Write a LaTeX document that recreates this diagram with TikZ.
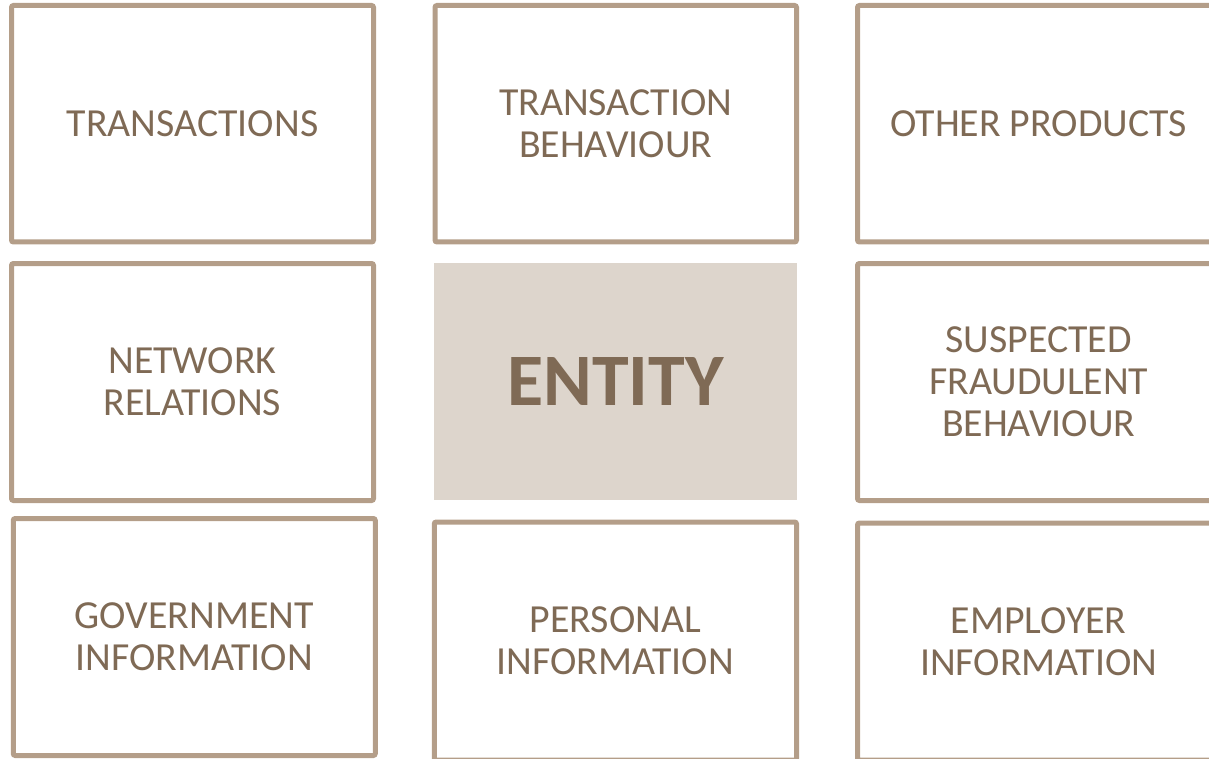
\documentclass[tikz,border=0pt]{standalone}
\usepackage{fontspec}
\setmainfont{Carlito}
\definecolor{tileedge}{RGB}{180,158,137}
\definecolor{tiletext}{RGB}{127,106,85}
\definecolor{corefill}{RGB}{221,213,204}

\begin{document}
\begin{tikzpicture}[x=1pt, y=-1pt,
    tile/.style={draw=tileedge, line width=5pt, rounded corners=2pt, text=tiletext,
      align=center, inner sep=0pt, font=\fontsize{39.8}{42.2}\selectfont},
    core/.style={fill=corefill, text=tiletext, inner sep=0pt,
      font=\fontsize{74}{80}\selectfont\bfseries}]
    \useasboundingbox (0,0) rectangle (1209,759);
    \clip (0,0) rectangle (1209,759);
    % top row
    \node [tile, minimum width=362pt, minimum height=236.5pt] (trans) at (192.5, 123.75) {TRANSACTIONS};
    \node [tile, minimum width=361.5pt, minimum height=236.5pt] (behav) at (615.75, 123.75) {TRANSACTION\\BEHAVIOUR};
    \node [tile, minimum width=362.5pt, minimum height=236.5pt] (other) at (1038.75, 123.75) {OTHER PRODUCTS};
    % middle row
    \node [tile, minimum width=362pt, minimum height=237pt] (network) at (192.5, 382) {NETWORK\\RELATIONS};
    \node [core, minimum width=363pt, minimum height=237pt] (entity) at (615.5, 381.5) {ENTITY};
    \node [tile, minimum width=362.5pt, minimum height=237pt] (fraud) at (1038.75, 382) {SUSPECTED\\FRAUDULENT\\BEHAVIOUR};
    % bottom row
    \node [tile, minimum width=362pt, minimum height=237pt] (govt) at (194.25, 637) {GOVERNMENT\\INFORMATION};
    \node [tile, minimum width=362.3pt, minimum height=238pt] (personal) at (615.4, 641) {PERSONAL\\INFORMATION};
    \node [tile, minimum width=362.5pt, minimum height=237pt] (employer) at (1038.75, 641.5) {EMPLOYER\\INFORMATION};
  \end{tikzpicture}
\end{document}
